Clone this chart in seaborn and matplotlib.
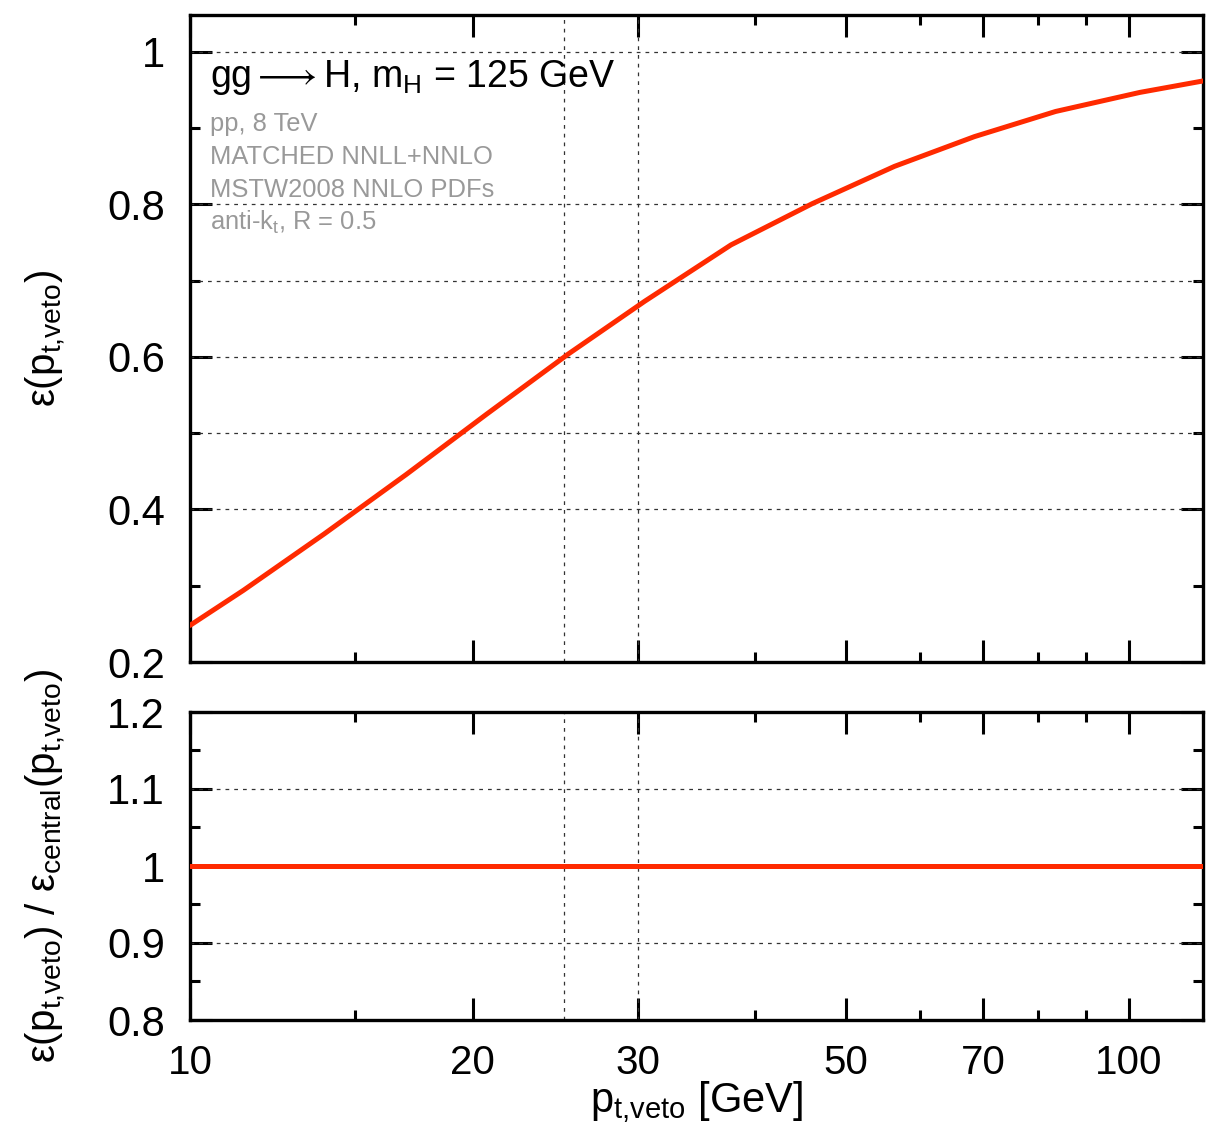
import numpy as np
import pandas as pd
import seaborn as sns
import matplotlib.pyplot as plt
from matplotlib.ticker import FixedLocator, FuncFormatter, NullFormatter

# curve
pt_veto = [10, 11.4, 13.9, 17.0, 20.7, 25.3, 30.5, 37.7, 46.0, 56.3, 68.5, 83.6, 102.8, 120]
eff = [0.248, 0.294, 0.368, 0.446, 0.525, 0.604, 0.673, 0.747, 0.801, 0.850, 0.889, 0.922, 0.947, 0.962]
ratio = [1.0] * len(pt_veto)

x_major = [10, 20, 30, 50, 70, 100]
x_minor = [15, 40, 60, 80, 90]
x_grid = [25, 30]
top_yticks = [0.2, 0.4, 0.6, 0.8, 1.0]
top_yminor = [0.3, 0.5, 0.7, 0.9]
top_ygrid = [0.4, 0.5, 0.6, 0.7, 0.8, 1.0]
bot_yticks = [0.8, 0.9, 1.0, 1.1, 1.2]
bot_yminor = [0.85, 0.95, 1.05, 1.15]
bot_ygrid = [0.9, 1.1]

info_lines = ['pp, 8 TeV', 'MATCHED NNLL+NNLO', 'MSTW2008 NNLO PDFs', r'anti-k$_\mathrm{t}$, R = 0.5']

sns.set_theme(style='ticks')
plt.rcParams['font.family'] = ['Liberation Sans', 'DejaVu Sans']
plt.rcParams['mathtext.fontset'] = 'custom'
plt.rcParams['mathtext.rm'] = 'Liberation Sans'
plt.rcParams['mathtext.it'] = 'Liberation Sans:italic'
plt.rcParams['mathtext.bf'] = 'Liberation Sans:bold'
plt.rcParams['mathtext.fallback'] = 'stixsans'
plt.rcParams['text.color'] = 'black'
plt.rcParams['axes.labelcolor'] = 'black'
plt.rcParams['xtick.labelcolor'] = 'black'
plt.rcParams['ytick.labelcolor'] = 'black'

df = pd.DataFrame({'pt': pt_veto, 'eff': eff, 'ratio': ratio})

fig = plt.figure(figsize=(12.16, 11.31), dpi=100)
ax1 = fig.add_axes([190/1216, 1-662/1131, 1013/1216, 647/1131])
ax2 = fig.add_axes([190/1216, 1-1020/1131, 1013/1216, 308/1131])

red = '#ff2a00'
grid_kw = dict(color='#333333', lw=0.9, ls=(0, (3, 4)), zorder=1)

sns.lineplot(data=df, x='pt', y='eff', ax=ax1, color=red, lw=3.6, zorder=3)
sns.lineplot(data=df, x='pt', y='ratio', ax=ax2, color=red, lw=3.6, zorder=3)

fmt = FuncFormatter(lambda v, p: '%g' % v)
for ax in (ax1, ax2):
    ax.set_xscale('log')
    ax.set_xlim(10, 120)
    ax.xaxis.set_major_locator(FixedLocator(x_major))
    ax.xaxis.set_minor_locator(FixedLocator(x_minor))
    ax.xaxis.set_minor_formatter(NullFormatter())
    ax.yaxis.set_major_formatter(fmt)
    for xv in x_grid:
        ax.axvline(xv, **grid_kw)
    ax.tick_params(which='both', direction='in', top=True, right=True, width=2.2, color='black')
    ax.tick_params(axis='y', labelsize=30, pad=18)
    ax.tick_params(axis='x', labelsize=29, pad=17)
    ax.tick_params(which='major', length=16)
    ax.tick_params(which='minor', length=7.5)
    for s in ax.spines.values():
        s.set_linewidth(2.4)
        s.set_color('black')
    ax.set_xlabel('')
    ax.set_ylabel('')

ax1.set_ylim(0.2, 1.0485)
ax1.yaxis.set_major_locator(FixedLocator(top_yticks))
ax1.yaxis.set_minor_locator(FixedLocator(top_yminor))
ax1.xaxis.set_major_formatter(NullFormatter())
for yv in top_ygrid:
    ax1.axhline(yv, **grid_kw)

ax2.set_ylim(0.8, 1.2)
ax2.yaxis.set_major_locator(FixedLocator(bot_yticks))
ax2.yaxis.set_minor_locator(FixedLocator(bot_yminor))
ax2.xaxis.set_major_formatter(fmt)
for yv in bot_ygrid:
    ax2.axhline(yv, **grid_kw)

sub = r'p$_\mathrm{t{,}veto}$'
ax1.set_ylabel('ε(' + sub + ')', fontsize=29)
ax2.set_ylabel('ε(' + sub + r') / ε$_\mathrm{central}$(' + sub + ')', fontsize=29)
ax2.set_xlabel(sub + ' [GeV]', fontsize=30, labelpad=-2)
ax1.yaxis.set_label_coords(-0.12, 0.5)
ax2.yaxis.set_label_coords(-0.12, 0.5)

ax1.text(0.0197, 0.904, r'gg$\longrightarrow$H, m$_\mathrm{H}$ = 125 GeV', transform=ax1.transAxes,
         fontsize=27, va='center', ha='left', color='black')
for i, line in enumerate(info_lines):
    ax1.text(0.0197, 0.8315 - i * 0.0507, line, transform=ax1.transAxes,
             fontsize=18.4, va='center', ha='left', color='#999999')

fig.savefig('out.png', dpi=100)
